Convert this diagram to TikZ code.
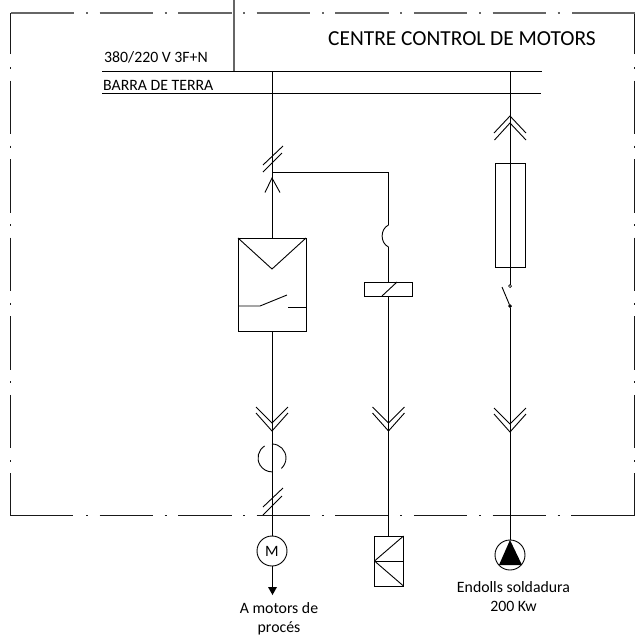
\documentclass[tikz,border=0pt]{standalone}
\usepackage{fontspec}
\setmainfont{Carlito}
\usetikzlibrary{positioning}

\tikzset{
	wire/.style={draw=black,line width=.9pt},
	framewire/.style={draw=black!90,line width=1pt},
	topwire/.style={draw=black!60,line width=1.3pt},
	framedash/.style={dash pattern=on 2pt off 11.5pt on 53.5pt off 11.6pt},
	box/.style={draw,line width=.9pt,inner sep=0pt,outer sep=0pt},
	round/.style={draw,shape=circle,line width=.9pt,inner sep=0pt,outer sep=0pt,minimum size=30pt},
	dot/.style={draw,shape=circle,line width=.7pt,inner sep=0pt,outer sep=0pt,minimum size=3pt},
	small/.style={font=\fontsize{15.8}{16}\selectfont,inner sep=0pt,align=center},
	pics/dchev/.style={code={
		\draw[wire] (-16,-16) -- (0,0) -- (16,-16);
		\draw[wire] (-16,-10) -- (0,8) -- (16,-10);
	}},
}

\begin{document}
\begin{tikzpicture}[x=1pt,y=-1pt]
	\useasboundingbox (0,0) rectangle (637,641);
	
	\coordinate (tl) at (10.5,13);
	\coordinate (tr) at (634.5,13);
	\coordinate (bl) at (10.5,515.5);
	\coordinate (br) at (634.5,515.5);
	
	\draw[framewire] (10.5,54) -- (tl);
	\draw[framewire] (634.5,54) -- (tr);
	\draw[topwire] (tl) -- (74,13);
	\draw[topwire] (tr) -- (571.5,13);
	\draw[framewire] (10.5,473) -- (bl) -- (73,515.5);
	\draw[framewire] (634.5,473) -- (br) -- (571,515.5);
	\draw[topwire,framedash] (86,13) -- (562,13);
	\draw[framewire,framedash] (86,515.5) -- (562,515.5);
	\draw[framewire,framedash] (10.5,67) -- (10.5,462);
	\draw[framewire,framedash] (634.5,67) -- (634.5,462);
	
	\node[font=\fontsize{21.4}{24}\selectfont,inner sep=0pt] (title) at (462,39) {CENTRE CONTROL DE MOTORS};
	\node[small,anchor=west] (volt) at (104,57) {380/220 V 3F+N};
	\node[small,anchor=west] (earth) at (103,85) {BARRA DE TERRA};
	
	\coordinate (busl) at (102,71);
	\coordinate (busr) at (542,71);
	\coordinate (earthl) at (102,93);
	\coordinate (earthr) at (541,93);
	\draw[wire] (busl) -- (busr);
	\draw[wire] (earthl) -- (earthr);
	
	\coordinate (feedtop) at (234,0);
	\coordinate (feedbus) at (234,71);
	\draw[topwire] (feedtop) -- (feedbus);
	
	% contactor branch
	\node[box,minimum width=68pt,minimum height=93pt] (cont) at (272,284.5) {};
	\node[round] (motor) at (272,551) {};
	\node[font=\fontsize{15.8}{16}\selectfont,inner sep=0pt] (m) at (motor) {M};
	\coordinate (top1) at (272,71);
	\coordinate (tap) at (272,172);
	\coordinate (vtip) at (272,269);
	\coordinate (arrow) at (272,587);
	
	\draw[wire] (top1) -- (cont.north);
	\draw[wire] (cont.south) -- (motor.north);
	\draw[wire] (cont.north west) -- (vtip) -- (cont.north east);
	\draw[wire] (238,306) -- (260,306) -- (287,295);
	\draw[wire] (288,307) -- (cont.east |- 288,307);
	
	\draw[wire] (263,165) -- (283,146);
	\draw[wire] (263,172) -- (282,153);
	\draw[wire] (265,192.5) -- (272,178) -- (280,192.5);
	
	\pic at (272,423) {dchev};
	
	\draw[wire] (272,444) arc[start angle=-90,end angle=48,radius=14];
	\draw[wire] (264.6,446) arc[start angle=-122,end angle=-270,radius=14];
	
	\draw[wire] (263,507) -- (283,488);
	\draw[wire] (263,515) -- (282,496);
	
	\draw[wire] (motor.south) -- (arrow);
	\fill (268,587) -- (277,587) -- (272.5,595) -- cycle;
	\node[small] (lab1) at (279,618.5) {A motors de\\[3pt]procés};
	
	% coil branch
	\node[box,minimum width=48pt,minimum height=14pt] (coil) at (388.5,289) {};
	\node[box,minimum width=29pt,minimum height=50pt] (load) at (389,561) {};
	\coordinate (tapr) at (388.5,172);
	\coordinate (aux1) at (388.5,225);
	\coordinate (aux2) at (388.5,247);
	
	\draw[wire] (tap) -- (tapr) -- (aux1);
	\draw[wire] (aux1) .. controls (380,229) and (380,243) .. (aux2);
	\draw[wire] (aux2) -- (coil.north -| aux2);
	\draw[wire] (382,296) -- (397,282);
	\draw[wire] (coil.south -| aux2) -- (load.north -| aux2);
	\draw[wire] (load.west) -- (load.east);
	\draw[wire] (load.west) -- (load.north east);
	\draw[wire] (load.west) -- (load.south east);
	
	\pic at (388.5,423) {dchev};
	
	% socket branch
	\node[box,minimum width=30pt,minimum height=104pt] (fuse) at (510,215) {};
	\node[dot] (sw1) at (510,286) {};
	\node[dot,fill] (sw2) at (510,306) {};
	\node[round] (socket) at (510,555) {};
	\coordinate (top3) at (510,71);
	
	\draw[wire] (top3) -- (sw1);
	\draw[wire] (sw2) -- (502,287);
	\draw[wire] (sw2) -- (socket.north);
	\fill (socket.north) -- (522,565) -- (499,565) -- cycle;
	
	\draw[wire] (494,133) -- (510,116) -- (526,133);
	\draw[wire] (494.5,140) -- (510,123) -- (526,140);
	
	\pic at (510,424) {dchev};
	
	\node[small] (lab3) at (513.5,596.5) {Endolls soldadura\\[3pt]200 Kw};
\end{tikzpicture}
\end{document}
